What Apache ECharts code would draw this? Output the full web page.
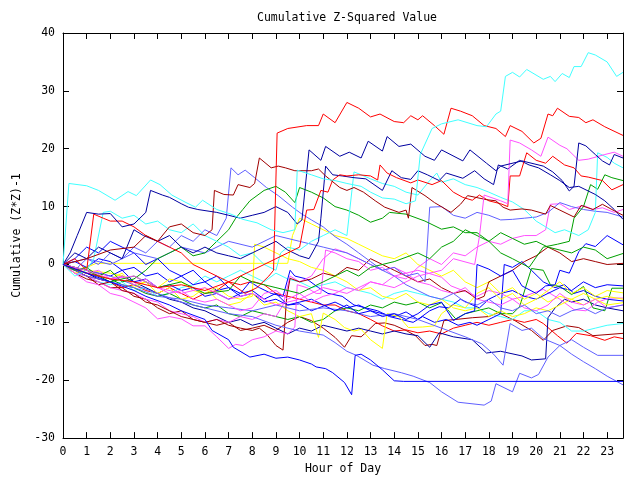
<!DOCTYPE html>
<html>
<head>
<meta charset="utf-8">
<script src="https://cdn.jsdelivr.net/npm/echarts@6/dist/echarts.min.js"></script>
<style>html,body{margin:0;padding:0;background:#fff}#chart{width:640px;height:480px}</style>
</head>
<body>
<div id="chart"></div>
<script>
// ---- tick labels / axis ranges ----
const xTicks = [0,1,2,3,4,5,6,7,8,9,10,11,12,13,14,15,16,17,18,19,20,21,22,23];
const yTicks = [-30,-20,-10,0,10,20,30,40];

// ---- series data: [hour, cumulative (z*z)-1] ----
const sA = [[0,0],[0.25,14],[1,13.6],[1.5,12.8],[2.2,11.1],[2.75,12.6],[3.1,11.9],[3.7,14.6],[4.1,13.8],[4.6,12],[5.2,10.7],[5.6,9.9],[5.9,11.1],[6.5,9.5],[7.1,8.7],[7.6,7.8],[8.2,7.2],[8.8,6],[9.3,5.5],[9.8,6],[9.9,16.3],[10.5,15.5],[11,14.8],[11.5,14.5],[12,14],[12.6,13.5],[13,12.5],[13.5,11.5],[14,11.3],[14.5,10.5],[14.9,11],[15.1,19],[15.6,23.5],[16,24.3],[16.7,25],[17.5,24],[17.9,23.8],[18.3,26],[18.5,26.5],[18.7,32.5],[19,33.2],[19.3,32.4],[19.6,33.7],[20.3,32],[20.6,32.5],[20.8,31.6],[21.1,33],[21.4,32.3],[21.6,34.2],[21.9,34.2],[22.2,36.6],[22.5,36.2],[23,35],[23.4,32.5],[23.67,33.2]];
const sB = [[0,0],[1,-1.5],[2,-2.5],[3,-3],[4,-4],[5,-3.5],[6,-4.5],[7,-3],[7.7,-5],[8.2,-4],[8.7,-2],[8.9,-1],[9.05,22.7],[9.5,23.5],[10.3,24],[10.8,24],[11,26],[11.5,24.5],[12,28],[12.5,27],[13,25.5],[13.4,26],[14,24.7],[14.4,24.5],[14.7,25.7],[15,25],[15.2,25.7],[15.7,24],[16.1,22.5],[16.4,27],[16.8,26.5],[17.3,25.7],[17.8,24],[18.3,23.5],[18.7,22.1],[18.9,24],[19.4,23],[19.9,21],[20.2,21.8],[20.5,26],[20.7,25.7],[20.9,27],[21.4,25.6],[21.8,25.4],[22.1,24.5],[22.4,25],[22.9,23.8],[23.67,22.3]];
const sC = [[0,0],[0.3,2],[0.6,5],[1,9],[1.5,8.7],[2,8.8],[2.5,6.5],[3,7],[3.5,9],[3.7,12.8],[4.2,12],[4.5,11.6],[5,10.5],[5.3,9.9],[5.7,9.5],[6.5,9],[7,8.5],[7.5,8],[8,8.5],[8.5,9],[9,10],[9.5,9],[9.9,7],[10.1,7.7],[10.4,19.8],[10.9,18],[11.1,20.4],[11.7,18.7],[12.1,19.4],[12.6,18.4],[12.9,21.3],[13.5,19.6],[13.7,22.1],[14.2,20.4],[14.7,20.8],[15.3,18.7],[15.7,18],[16,19.8],[16.9,17.9],[17.2,19.8],[17.9,17.5],[18.3,16.2],[18.5,17],[19.4,17.9],[20.3,17],[20.7,16],[21.1,14.5],[21.4,12.7],[21.6,13.5],[21.8,21],[22.1,20.5],[22.5,19],[22.8,17.9],[23.1,17.2],[23.3,19],[23.67,18.4]];
const sD = [[0,0],[1,-1],[2,-2.5],[3,-2],[4,-4],[5,-5],[6,-4],[7,-6],[8,-5],[9,-7],[10,-6],[11,-4],[12,-5],[13,-3],[14,-4],[15,-2],[16,-1],[16.5,1],[17.4,0],[17.6,4.8],[17.8,12],[18.5,11],[18.8,10.5],[18.9,21.5],[19.3,21],[19.8,19.8],[20.2,18.7],[20.5,22],[21,20.6],[21.3,20],[21.8,18],[22.2,18.2],[22.9,19],[23.3,19.4],[23.67,18.7]];
const sE = [[0,0],[1,-1.5],[2,-3],[3,-4.5],[3.5,-5.5],[4.5,-7],[5,-8],[6,-9.5],[6.3,-11.4],[7,-13],[7.2,-14.3],[7.9,-16],[8.5,-15.5],[9,-16.2],[9.5,-16],[10,-16.5],[10.5,-17.2],[10.7,-17.7],[11.1,-18],[11.4,-18.7],[11.9,-20.4],[12.2,-22.5],[12.35,-15.7],[12.6,-15.5],[13,-16.5],[13.5,-18.2],[14,-20.1],[14.4,-20.2],[23.67,-20.2]];
const sF = [[0,0],[1,-1],[2,-2],[3,-3.5],[4,-5],[5,-6.5],[6,-7.5],[7,-8.5],[8,-9],[9,-10.5],[10,-11.5],[11,-12.2],[11.5,-13.5],[12,-15],[12.4,-15.7],[13.1,-17.4],[13.6,-18],[14.3,-18.7],[14.8,-19.3],[15.5,-20.4],[16,-22],[16.7,-23.8],[17.8,-24.3],[18.1,-23.6],[18.3,-20.6],[19,-22],[19.3,-18.8],[19.8,-19.6],[20.1,-19],[20.5,-16],[21,-14],[21.5,-13],[22,-14.3],[22.6,-15.7],[23.67,-15.7]];
const sG = [[0,0],[1,-2],[2,-3],[3,-4],[4,-5.5],[5,-6],[6,-7],[7,-7.5],[8,-8],[9,-7],[10,-8],[11,-7.5],[12,-8],[13,-9],[14,-8.5],[15,-9.5],[16,-11],[17,-12.5],[17.7,-13.7],[18.2,-15.5],[18.6,-17.4],[18.9,-10.2],[19.4,-11.4],[19.8,-11],[20.3,-12.8],[21,-14],[21.5,-15.5],[22,-16.8],[22.5,-18],[23,-19.3],[23.67,-20.8]];
const sH = [[0,0],[0.5,-1.5],[1,-3],[1.5,-3.5],[2,-5],[2.5,-5.5],[3,-6.5],[3.5,-7.5],[4,-9.4],[4.5,-9],[5,-9.4],[5.5,-10.6],[6,-10.6],[6.5,-12.5],[7,-14.5],[7.3,-13.8],[7.6,-14],[8,-13],[8.5,-12.5],[9,-11.5],[9.5,-12],[9.8,-10.8],[9.9,-3.5],[10.3,-4],[10.7,-5],[10.9,-5],[11.1,2.5],[11.5,2],[12,1],[12.5,0.5],[13,-1],[13.5,-0.5],[14,-2],[14.5,-1.5],[15,-3],[15.5,-3.5],[16,-4.5],[16.5,-5],[17,-4],[17.5,-6],[18,-6.5],[18.5,-7],[19,-6],[19.5,-7.5],[20,-8],[20.5,-7],[21,-5],[21.5,-6.5],[22,-7],[22.5,-6],[23,-7.5],[23.67,-7]];
const sI = [[0,0],[0.5,-1],[1,1],[1.5,0],[2,2],[2.5,1],[3,3],[3.5,2],[4,4],[4.5,3],[5,5],[5.5,4],[6,6],[6.5,5],[6.9,8],[7.1,16.7],[7.4,15.5],[7.7,16.3],[8.1,15],[8.6,13.3],[9.1,11.9],[9.7,9.9],[10.1,8.7],[10.5,7.7],[11,6.5],[11.5,4.8],[12,3.5],[12.5,2],[13,0.5],[13.5,-1],[14,-2],[14.5,-3.5],[15,-4.5],[15.5,-5.5],[16,-6],[16.5,-5],[17,-6.5],[17.5,-7],[18,-6],[18.5,-7.5],[19,-8],[19.5,-7],[20,-8.5],[20.5,-8],[21,-9],[21.5,-8],[22,-7.5],[22.5,-8.5],[23,-7.5],[23.67,-7]];
const sJ = [[0,0],[1,1],[2,2.5],[3,3],[3.5,5],[4,4],[4.5,6.5],[5,7],[5.5,5.5],[6,5],[6.3,6],[6.4,12.8],[6.8,12.1],[7.2,12],[7.4,13.8],[7.9,13.3],[8.1,14],[8.3,18.4],[8.8,16.7],[9.1,17],[9.4,16.7],[9.8,16.2],[10.5,16.2],[10.8,16.5],[11.1,15.3],[11.7,13.3],[12,12.8],[12.3,13.3],[12.7,12.5],[13.2,11],[13.6,9.9],[14.2,9],[14.5,9.4],[14.6,8],[14.75,13.3],[15.3,11.9],[15.7,10.7],[16.4,9],[16.8,10.4],[17.1,11.9],[17.9,11.2],[18.3,11],[18.6,9.9],[18.9,9.4],[19.4,9.6],[19.8,9.4],[20.4,8.7],[20.6,10.2],[21,9.4],[21.6,8.2],[21.9,10.2],[22.4,9.5],[22.8,10.4],[23.2,9.5],[23.67,8.5]];
const sK = [[0,0],[0.5,1],[1,-1],[1.3,8.7],[1.7,8],[2,7.5],[2.5,7.5],[3,6.5],[3.5,5],[4,4],[4.5,3],[5,2],[5.5,0],[6,-1],[6.5,-2],[7,-3],[7.5,-2],[8,-1],[8.5,0],[9,1],[9.5,2],[10,3],[10.3,9.4],[10.6,9.5],[10.9,12.8],[11.2,12.5],[11.4,14.6],[11.7,15.5],[12,15.3],[12.5,15.5],[13,15.3],[13.3,14.6],[13.4,17.2],[13.7,15.8],[14.1,15],[14.7,14.1],[15,14.6],[15.6,13.8],[16,14.5],[16.5,12.5],[16.9,11.6],[17.3,11.1],[17.6,12],[18,11],[18.5,10.5],[18.8,10],[18.9,15.3],[19.3,15.3],[19.6,19.3],[20,18],[20.4,17.5],[20.7,18.7],[21.2,17.2],[21.6,16.7],[21.9,15.3],[22.2,15.1],[22.8,14.5],[23.2,12.9],[23.67,13.8]];
const sL = [[0,0],[0.5,2],[1,1],[1.5,3],[2,2],[2.5,1],[3,6],[3.4,5],[4,4],[4.5,5],[5,3],[5.5,2],[6,3],[6.5,2],[7,1.5],[7.5,1],[8,2],[8.5,3],[9,4],[9.5,2.5],[10,1.5],[10.4,1],[10.8,4],[10.9,8],[11.1,17],[11.4,15.5],[11.8,15.3],[12.3,15],[12.8,14.8],[13.5,12.8],[13.9,16.2],[14.3,15],[14.7,14.7],[15,16.2],[15.4,15.5],[15.9,14.5],[16.2,15.8],[16.9,14.9],[17.4,16.2],[17.8,14.8],[18.2,13.8],[18.4,17.2],[18.8,16.5],[19.3,18],[19.7,17.2],[20.1,16.7],[20.6,15.5],[21,14.5],[21.4,13.3],[21.8,13.5],[22.5,12.1],[22.9,11],[23.3,9.5],[23.67,7.8]];
const sM = [[0,0],[0.5,-2],[1,-1],[1.3,1],[1.7,9],[2,9.2],[2.5,8],[3,8.5],[3.5,7],[4,7.5],[4.5,6],[5,5.5],[5.5,7],[6,5],[6.5,4],[7,3],[7.5,1.5],[8,2],[8.5,0],[9,-1],[9.2,2],[9.5,3],[10,2.5],[10.5,4],[11,5],[11.5,6],[12,5],[12.3,16],[12.6,15.5],[13,14.8],[13.5,14],[14,13.5],[14.5,12.5],[15,12],[15.5,14.5],[15.8,15.8],[16,14.2],[16.5,14.8],[17,13.8],[17.5,13.3],[18,12.5],[18.5,11.6],[19,10.8],[19.5,9.5],[20,7.5],[20.4,6.5],[20.8,5.5],[21.2,6],[21.8,5],[22.2,6],[22.5,9],[22.6,19.3],[23,18.5],[23.3,17.5],[23.67,16.7]];
const sN = [[0,0],[0.5,-1],[1,-0.5],[1.5,-2],[2,-1],[2.5,-3],[3,-2.5],[3.5,-1],[4,1],[4.5,2],[5,3],[5.5,1.5],[6,2],[6.5,4],[7,6],[7.3,8],[7.6,9.5],[7.9,11],[8.5,12.8],[9,13.5],[9.4,12.5],[9.8,10.7],[10,13.3],[10.5,12.5],[11,11.5],[11.5,10],[12,9.4],[12.5,8.5],[13,7.3],[13.5,8],[13.8,9],[14.5,8.7],[15.3,7.5],[16,6.1],[16.5,6.5],[17,5.5],[17.5,5.5],[18,4],[18.5,5.5],[19,4.5],[19.5,3.5],[20,4],[20.5,3],[21,2.5],[21.5,2],[22,3],[22.5,2.5],[23,1],[23.67,1.9]];
const sO = [[0,0],[1,-1],[2,-3],[3,-2],[4,-4],[5,-3],[6,-5],[7,-4.5],[7.5,-2],[8,-3],[9,-4],[10,-5],[11,-3],[12,-1],[12.5,-2],[13,-0.5],[14,0.5],[15,2],[15.5,1],[16,3],[16.5,4],[17,6],[17.5,5],[18,4],[18.5,2],[19,1],[19.7,-0.5],[20.3,3],[20.9,3.5],[21.4,4],[21.6,8],[22,10],[22.3,13.8],[22.6,13],[22.9,15.5],[23.2,15],[23.67,14.5]];
const sP = [[0,0],[0.5,-1],[1,-0.5],[1.4,0.2],[9.5,0.2],[9.7,5],[10,8],[10.5,7],[11,6],[11.5,5],[12,4.5],[12.5,3.5],[13,2.5],[13.5,1.5],[14,1],[14.5,2],[15,0],[15.5,-1],[16,-2],[16.5,-1],[17,-3],[17.5,-4],[18,-3],[18.5,-5],[19,-4],[19.5,-6],[20,-5],[20.5,-6.5],[21,-5.5],[21.5,-6],[22,-7],[22.5,-6],[23,-7],[23.67,-6.6]];
const sQ = [[0,0],[0.5,-1.5],[1,-1],[2,-2.5],[2.5,-1.5],[3,-4],[3.5,-3],[4,-5],[4.5,-4],[5,-6],[5.5,-5.5],[6,-4],[6.5,-6],[7,-7],[7.5,-6.5],[8,-5],[8.5,-7],[9,-6.5],[9.5,-8],[10,-9],[10.5,-8.5],[10.8,-12.6],[11,-8.4],[11.5,-9.5],[11.9,-10.9],[12.3,-11.5],[12.6,-11.2],[13,-13],[13.5,-14.5],[13.7,-8.5],[14.2,-9],[14.6,-10.9],[15.2,-10.8],[15.7,-10.6],[16,-8.5],[16.5,-7],[17,-7.5],[17.5,-5],[18,-4],[18.5,-6],[19,-5],[19.5,-7],[20,-6],[20.5,-4.5],[21,-3],[21.5,-5],[22,-4],[22.5,-5.5],[23,-4.5],[23.67,-4.9]];
const sR = [[0,0],[1,-1],[2,-1.5],[2.5,-2],[3,-3.5],[3.5,-3],[4,-4],[4.5,-2.5],[5,-3],[5.5,-4.5],[6,-5],[6.5,-4],[7,-5.5],[7.5,-6],[8,-5.5],[8.1,3.5],[8.5,3],[9,2],[9.5,1],[10,0.5],[10.5,-0.5],[11,-1],[11.5,-2],[12,-3],[12.5,-4.5],[13,-4],[13.5,-5.5],[14,-6],[14.5,-5],[15,-6.5],[15.5,-7],[16,-6],[16.5,-7.5],[17,-8],[17.5,-7.5],[18,-9],[18.5,-8],[19,-9],[19.5,-8.5],[20,-7.5],[20.5,-8],[21,-7],[21.5,-6],[22,-5],[22.5,-6],[23,-5.5],[23.67,-6]];
const sS = [[0,0],[0.5,-1],[1,-2],[1.5,-3.5],[2,-3],[2.5,-4.5],[3,-5],[3.5,-6.5],[4,-7],[4.5,-8],[5,-9],[5.5,-9.5],[6,-10],[6.5,-9.5],[7,-10.5],[7.5,-11],[8,-11.4],[8.3,-11],[8.6,-12],[9,-14],[9.3,-14.8],[9.45,-5.8],[9.6,-2.4],[10,-3],[10.5,-2.5],[11,-1.5],[11.5,-2],[12,-0.5],[12.5,-1],[13,1],[13.5,0],[14,-1],[14.5,-2],[15,-3],[15.5,-2.5],[16,-4],[16.5,-5],[17,-4.5],[17.5,-6],[17.8,-5.5],[18,-3],[18.5,-2],[19,-1],[19.5,0.5],[20,1.5],[20.5,3],[21,2],[21.5,0.5],[22,1],[22.5,0.5],[23,0],[23.67,0.2]];
const sT = [[0,0],[0.5,-1.5],[1,-2.5],[1.5,-3],[2,-4],[2.5,-4],[3,-5.5],[3.5,-6],[4,-7.5],[4.5,-8.5],[5,-8],[5.5,-9.5],[6,-10],[6.5,-10.5],[7,-10],[7.5,-11.4],[8,-11],[8.5,-10.5],[9,-11.4],[9.5,-10],[10,-9],[10.5,-9.7],[11,-11],[11.5,-12.6],[11.9,-14.3],[12.2,-12.3],[12.6,-12.5],[12.9,-11.4],[13.2,-10.2],[13.6,-10.1],[14,-10.5],[14.5,-11.4],[14.9,-12.3],[15.3,-14],[15.6,-13.8],[15.8,-14],[16.1,-9.7],[16.6,-9.5],[17.3,-9.2],[18,-9],[18.4,-8.3],[19.1,-9.7],[19.8,-11.4],[20.3,-13.1],[20.7,-11.4],[21.3,-10.6],[21.8,-10.9],[22.4,-12.3],[23.67,-11.9]];
const sU = [[0,0],[0.5,-1],[1,-2],[1.5,-2.5],[2,-3],[2.5,-4],[3,-3.5],[3.5,-4.5],[4,-5],[4.5,-4],[5,-5],[5.5,-6],[6,-5],[6.5,-4.5],[7,-3],[7.5,-3.5],[8,-2.9],[8.5,-3.5],[9,-5],[9.5,-5.5],[10,-6],[10.5,-6.5],[11,-7],[11.5,-7],[12,-8],[12.5,-8.5],[13,-9.5],[13.5,-10.6],[14,-11.5],[14.5,-11.3],[15,-11.8],[15.5,-11.5],[16,-12],[16.5,-11],[17,-10.5],[17.5,-10],[18,-10.5],[18.5,-10],[19,-9.5],[19.5,-10],[20,-9.5],[20.3,-10.2],[20.9,-12.3],[21.3,-13.6],[21.7,-11.9],[22.3,-12.3],[22.9,-13.1],[23.3,-12.5],[23.67,-12.8]];
const sV = [[0,0],[0.5,-1.5],[1,-2],[1.5,-3],[2,-3.5],[2.5,-3],[3,-4.5],[3.5,-4],[4,-5.5],[4.5,-5],[5,-4],[5.5,-3.5],[6,-2],[6.5,-3],[7,-2],[7.5,-1],[8,-2],[8.5,-3],[9,-1.5],[9.5,-2.5],[10,-3],[10.5,-4],[11,-3.5],[11.5,-3],[12,-4],[12.5,-4.5],[13,-5],[13.5,-6],[14,-5],[14.5,-4.5],[15,-5],[15.5,-5.5],[16,-6],[16.5,-6.5],[17,-7.5],[17.5,-7.5],[18,-8.5],[18.5,-9],[19,-9.5],[19.5,-8],[20,-8],[20.5,-9.5],[21,-10],[21.5,-11.5],[22,-11.5],[22.5,-11],[23,-10.5],[23.67,-10.2]];
const sW = [[0,0],[0.5,1],[1,3],[1.5,2],[2,4],[2.5,3],[3,2],[3.5,0],[4,1],[4.5,-1],[5,-2],[5.5,-1],[6,-3],[6.5,-2],[7,-4],[7.5,-5],[8,-4.5],[8.5,-6],[9,-5],[9.5,-7],[10,-6.5],[10.5,-6],[11,-7],[11.5,-8],[12,-7],[12.5,-8.5],[13,-8],[13.5,-9],[14,-8.5],[14.5,-9.5],[15,-8.5],[15.5,-7],[16,-6.5],[16.5,-9.7],[17,-8.5],[17.4,-8],[17.5,0],[18,-0.8],[18.5,-2],[19,-1],[19.4,-3.7],[20,-5],[20.4,-3.7],[20.8,-3.5],[21,-1],[21.4,-1.5],[21.8,2.2],[22.1,3.6],[22.5,3.1],[23,5],[23.67,3.4]];
const sX = [[0,0],[0.5,-1],[1,-1.5],[1.5,-2.5],[2,-3],[2.5,-2],[3,-3],[3.5,-4],[4,-5],[4.5,-6],[5,-6.5],[5.5,-7.5],[6,-8],[6.5,-9],[7,-10],[7.5,-9.5],[8,-10.5],[8.5,-10],[9,-11],[9.5,-12],[10,-11],[10.5,-11.5],[11,-10.5],[11.5,-11],[12,-11.5],[12.5,-11],[13,-11.5],[13.5,-12],[14,-11.5],[14.5,-12],[15,-12.3],[15.5,-14.3],[15.9,-11.8],[16.5,-12.5],[17.3,-13],[17.9,-15.3],[18.5,-15],[19.4,-15.8],[19.8,-16.5],[20.4,-16.3],[20.5,-9.2],[20.8,-7.5],[21.2,-6],[21.5,-6.5],[22,-6],[22.5,-7],[23,-7.5],[23.67,-8]];
const sY = [[0,0],[0.5,-0.5],[1,-1],[2,-2],[2.5,-1],[3,-3],[3.5,-2.5],[4,-4],[4.5,-3.5],[5,-4.5],[5.5,-4],[6,-5.5],[6.5,-5],[7,-6],[7.5,-5],[7.9,-3],[8.3,-4],[8.8,-5],[9.3,-5.5],[9.6,-1],[9.8,-2],[10.3,-2.5],[10.8,-4],[11.2,-5],[11.8,-5.5],[12.3,-7],[12.8,-7.5],[13.3,-8],[13.8,-9],[14.3,-9.5],[14.8,-10],[15.2,-9],[15.7,-10],[16.2,-9.5],[16.7,-10.5],[17.2,-10],[17.5,-10.5],[18,-9.5],[18.5,-8.5],[18.65,0],[19,-0.5],[19.4,0.5],[19.8,-1],[20.3,-3],[20.8,-4],[21.2,-3.5],[21.6,-5],[22,-4.5],[22.5,-5.5],[23,-6],[23.67,-6.3]];
const sZ = [[0,0],[0.5,-1],[1,-1.5],[1.5,-2],[2,-2.5],[2.5,-3.5],[3,-4],[3.5,-5],[4,-5.5],[4.5,-5],[5,-6],[5.5,-7],[6,-7.5],[6.5,-7],[7,-8.5],[7.5,-9],[8,-8],[8.5,-8.5],[9,-9],[9.5,-9.5],[10,-9],[10.5,-10],[11,-9.5],[11.5,-8],[12,-7.5],[12.5,-8],[13,-7],[13.5,-7.5],[14,-6.5],[14.5,-7],[15,-6.5],[15.5,-7.5],[16,-6.6],[16.6,-9.4],[17,-8.5],[17.5,-8],[18,-7.5],[18.5,-8.5],[19,-8.5],[19.3,-7.3],[19.8,-0.7],[20.3,-1],[20.6,-3.5],[21,-3.8],[21.5,-5.2],[22,-3.8],[22.4,-7.5],[22.9,-8],[23.2,-4.1],[23.67,-4.1]];
const sAA = [[0,0],[0.5,-1.5],[1,-2],[1.5,-3],[2,-4],[2.5,-4.5],[3,-5],[3.5,-6],[4,-6.5],[4.5,-8],[5,-8.5],[5.5,-9],[6,-10],[6.5,-9.5],[7,-10],[7.5,-9],[8,-9.5],[8.5,-8.5],[9,-9],[9.3,-7],[9.6,-2],[10,-3],[10.5,-2],[11,1],[11.5,2.7],[12,2],[12.5,1],[13,0],[13.5,-1],[14,-0.5],[14.5,-1.5],[15,-1],[15.6,-1.7],[16,-2.2],[16.4,-3.7],[16.9,-4.5],[17.5,-5.5],[18,-4.5],[18.5,-5],[19,-6],[19.5,-5.5],[20.3,-4.3],[21,-6],[21.6,-7.8],[22.1,-8],[22.6,-6.5],[23.1,-5.8],[23.67,-5.8]];
const sAB = [[0,0],[0.5,-0.5],[1,-1.5],[1.5,-1],[2,-2.5],[2.5,-2],[3,-3.5],[3.5,-2.5],[4,-4],[4.5,-5],[5,-4.5],[5.5,-6],[6,-6.5],[6.5,-6],[7,-7],[7.5,-8],[8,-7.5],[8.5,-5],[9,-4.5],[9.5,-6],[10,-5],[10.5,-6.5],[11,-5.5],[11.5,-5],[12,-4],[12.5,-4.5],[13,-3],[13.5,-3.5],[14,-2],[14.5,-2.5],[15,-0.5],[15.5,1],[16,0],[16.5,2],[17,1.5],[17.5,3],[18,4],[18.5,3.5],[19,4.5],[19.5,5],[20,5],[20.4,6],[20.6,10.4],[21,10.5],[21.4,9.5],[22,10.2],[22.4,9.5],[22.8,9.8],[23.3,9],[23.67,9.5]];
const sAD = [[0,0],[0.5,0.5],[1,-0.5],[1.5,1],[2,0.5],[2.5,-1],[3,-0.5],[3.5,-2],[4,-1.5],[4.5,-3],[5,-2],[5.5,-3.5],[6,-3],[6.5,-4.5],[7,-4],[7.5,-5.5],[8,-5],[8.5,-6.5],[9,-6],[9.5,-7],[10,-6.8],[10.5,-8],[11,-7.2],[11.5,-6.5],[12,-7.5],[12.5,-7],[13,-8],[13.5,-8.5],[14,-9],[14.5,-8.2],[15,-9.5],[15.5,-8],[15.9,-7.3],[16.3,-7.5],[16.8,-6],[17.2,-6.8],[17.6,-7.5],[18,-6],[18.5,-5],[19,-4.5],[19.5,-5.5],[20,-6],[20.5,-5],[21,-4],[21.5,-4.5],[22,-3],[22.5,-4],[23,-3.5],[23.67,-3.7]];
const sAE = [[0,0],[1,1],[2,0],[3,2],[4,1],[5,3],[6,2],[7,4],[8,3],[9,5],[10,4],[11,3],[12,2],[12.5,1],[13,0],[13.5,-1],[14,-0.5],[14.5,-2],[15,-1.5],[15.3,-3],[15.5,9.9],[16,10],[16.5,8.5],[17,8],[17.5,9],[18,8.5],[18.5,7.7],[19,7.8],[19.5,8],[20,8.2],[20.5,9],[21,10.7],[21.5,10],[22,9.5],[22.5,9.2],[23,9],[23.67,8.2]];

// ---- styling (kept separate from data) ----
const C = {red:'#ff0000', green:'#00a000', blue:'#0000ff', navy:'#0000a0', magenta:'#ff50ff', cyan:'#40ffff', darkred:'#a00000', yellow:'#ffff00', slate:'#6060ff'};
const seriesList = [
  [sT,C.darkred],[sU,C.red],[sV,C.cyan],[sX,C.navy],[sY,C.blue],[sZ,C.green],[sAA,C.magenta],[sAD,C.blue],
  [sQ,C.yellow],[sR,C.yellow],[sP,C.yellow],[sS,C.darkred],[sH,C.magenta],[sG,C.slate],[sF,C.slate],[sI,C.slate],
  [sW,C.blue],[sAB,C.magenta],[sAE,C.slate],[sO,C.green],[sN,C.green],[sM,C.cyan],[sL,C.navy],[sK,C.red],
  [sJ,C.darkred],[sD,C.magenta],[sC,C.navy],[sB,C.red],[sA,C.cyan],[sE,C.blue]
];

const font = 'DejaVu Sans Mono';
const xMax = 23.67;
const chart = echarts.init(document.getElementById('chart'));
const axisCommon = {
  axisLine:{show:true,onZero:false,lineStyle:{color:'#000',width:1}},
  axisTick:{show:true,inside:true,length:6,lineStyle:{color:'#000',width:1}},
  splitLine:{show:false}
};
chart.setOption({
  animation:false,
  backgroundColor:'#fff',
  title:{text:'Cumulative Z-Squared Value',left:252,top:7,textStyle:{fontFamily:font,fontSize:11.5,fontWeight:'normal',color:'#000'}},
  grid:{left:63,right:17,top:33,bottom:36},
  xAxis:[
    Object.assign({type:'value',min:xTicks[0],max:xMax,interval:1,position:'bottom',
      name:'Hour of Day',nameLocation:'middle',nameGap:20,
      nameTextStyle:{fontFamily:font,fontSize:11.5,color:'#000'},
      axisLabel:{margin:8,fontFamily:font,fontSize:11.5,color:'#000',
        formatter:v=>xTicks.indexOf(Math.round(v))>=0 && Math.abs(v-Math.round(v))<1e-6 ? String(Math.round(v)) : ''}},axisCommon),
    Object.assign({type:'value',min:xTicks[0],max:xMax,interval:1,position:'top',axisLabel:{show:false}},axisCommon)
  ],
  yAxis:[
    Object.assign({type:'value',min:yTicks[0],max:yTicks[yTicks.length-1],interval:10,position:'left',
      name:'Cumulative (Z*Z)-1',nameLocation:'middle',nameGap:34,
      nameTextStyle:{fontFamily:font,fontSize:11.5,color:'#000'},
      axisLabel:{margin:8,fontFamily:font,fontSize:11.5,color:'#000'}},axisCommon),
    Object.assign({type:'value',min:yTicks[0],max:yTicks[yTicks.length-1],interval:10,position:'right',axisLabel:{show:false}},axisCommon)
  ],
  series: seriesList.map(([d,col])=>({
    type:'line',data:d,xAxisIndex:0,yAxisIndex:0,showSymbol:false,symbol:'none',
    lineStyle:{width:1,color:col},itemStyle:{color:col},silent:true,clip:true
  }))
});
</script>
</body>
</html>
